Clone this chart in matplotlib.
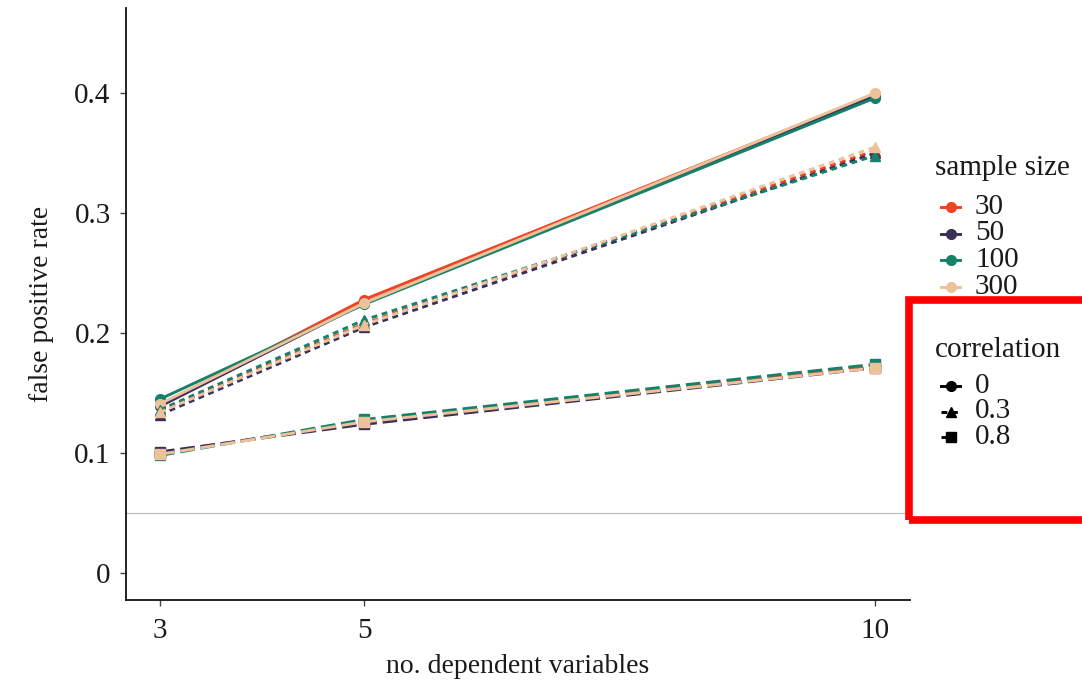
import matplotlib
matplotlib.use("Agg")
import matplotlib.pyplot as plt
from matplotlib.lines import Line2D
from matplotlib.patches import Rectangle

plt.rcParams['font.family'] = ['Liberation Serif', 'DejaVu Serif']

# ---- data ----
n_dv = [3, 5, 10]
sample_sizes = ["30", "50", "100", "300"]
correlations = ["0", "0.3", "0.8"]

# correlation 0
fpr_r0_n30 = [0.140, 0.228, 0.399]
fpr_r0_n50 = [0.139, 0.225, 0.398]
fpr_r0_n100 = [0.145, 0.224, 0.396]
fpr_r0_n300 = [0.141, 0.225, 0.400]
# correlation 0.3
fpr_r3_n30 = [0.135, 0.208, 0.352]
fpr_r3_n50 = [0.132, 0.205, 0.350]
fpr_r3_n100 = [0.136, 0.211, 0.348]
fpr_r3_n300 = [0.134, 0.207, 0.355]
# correlation 0.8
fpr_r8_n30 = [0.100, 0.126, 0.172]
fpr_r8_n50 = [0.101, 0.124, 0.171]
fpr_r8_n100 = [0.098, 0.128, 0.174]
fpr_r8_n300 = [0.099, 0.126, 0.171]

y_ticks = [0, 0.1, 0.2, 0.3, 0.4]
y_ticklabels = ["0", "0.1", "0.2", "0.3", "0.4"]
alpha_level = 0.05

series = {
    "0": [fpr_r0_n30, fpr_r0_n50, fpr_r0_n100, fpr_r0_n300],
    "0.3": [fpr_r3_n30, fpr_r3_n50, fpr_r3_n100, fpr_r3_n300],
    "0.8": [fpr_r8_n30, fpr_r8_n50, fpr_r8_n100, fpr_r8_n300],
}

# ---- styles ----
colors = ["#EE4422", "#3B2E58", "#16806A", "#EDC19A"]
markers = {"0": "o", "0.3": "^", "0.8": "s"}
linestyles = {"0": "-", "0.3": (0, (2.0, 1.6)), "0.8": (0, (5.0, 2.0))}

W, H = 1082, 681
fig = plt.figure(figsize=(W / 100, H / 100), dpi=100)
ax = fig.add_axes([126 / W, 1 - 600 / H, (910 - 126) / W, (600 - 8) / H])

ax.axhline(alpha_level, color="#bdbdbd", lw=0.9, zorder=1)

for corr in correlations:
    for col, vals in zip(colors, series[corr]):
        ax.plot(n_dv, vals, color=col, lw=2.1, ls=linestyles[corr],
                marker=markers[corr], ms=7, zorder=3)

ax.set_xlim(2.667, 10.343)
ax.set_ylim(-0.0225, 0.471)
ax.set_xticks(n_dv)
ax.set_xticklabels([str(v) for v in n_dv])
ax.set_yticks(y_ticks)
ax.set_yticklabels(y_ticklabels)
for s in ["top", "right"]:
    ax.spines[s].set_visible(False)
for s in ["left", "bottom"]:
    ax.spines[s].set_linewidth(1.3)
    ax.spines[s].set_color("#111111")
ax.tick_params(axis="both", length=4, width=1, color="#444444",
               labelsize=21, labelcolor="#1a1a1a")
ax.tick_params(axis="y", pad=7)
ax.tick_params(axis="x", pad=9)
ax.set_xlabel("no. dependent variables", fontsize=20, color="#1a1a1a", labelpad=7)
ax.set_ylabel("false positive rate", fontsize=20, color="#1a1a1a", labelpad=15)

# ---- legends (drawn manually in figure pixel coords) ----
def fx(px):
    return px / W

def fy(py):
    return 1 - py / H

fig.text(fx(935), fy(168), "sample size", fontsize=21, va="center", ha="left", color="#1a1a1a")
for i, (lab, col) in enumerate(zip(sample_sizes, colors)):
    yy = fy(207 + i * 26.5)
    fig.add_artist(Line2D([fx(941), fx(960)], [yy, yy], color=col, lw=2.1,
                          transform=fig.transFigure))
    fig.add_artist(Line2D([fx(951)], [yy], color=col, marker="o", ms=7,
                          transform=fig.transFigure))
    fig.text(fx(975), yy, lab, fontsize=21, va="center", ha="left", color="#1a1a1a")

fig.text(fx(935), fy(350), "correlation", fontsize=21, va="center", ha="left", color="#1a1a1a")
for i, corr in enumerate(correlations):
    yy = fy(386 + i * 25.5)
    fig.add_artist(Line2D([fx(941), fx(960)], [yy, yy], color="black", lw=2.1,
                          ls=linestyles[corr], transform=fig.transFigure))
    fig.add_artist(Line2D([fx(951)], [yy], color="black", marker=markers[corr], ms=7,
                          transform=fig.transFigure))
    fig.text(fx(975), yy, corr, fontsize=21, va="center", ha="left", color="#1a1a1a")

# red highlight box (extends past right edge)
fig.add_artist(Rectangle((fx(909), fy(520)), fx(1110) - fx(909), fy(300) - fy(520),
                         transform=fig.transFigure, fill=False, edgecolor="#FF0000",
                         lw=5.5, zorder=10))

fig.savefig("out.png", dpi=100)
